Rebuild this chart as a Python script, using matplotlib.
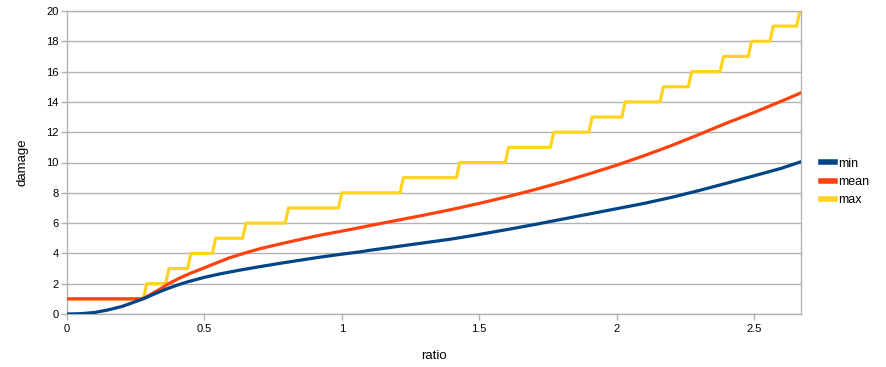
import numpy as np
import matplotlib
matplotlib.use("Agg")
import matplotlib.pyplot as plt

# значения
min_x = [0, 0.05, 0.1, 0.15, 0.2, 0.23, 0.284, 0.325, 0.366, 0.405, 0.444, 0.5, 0.56,
         0.63, 0.7, 0.77, 0.848, 0.92, 1.0, 1.066, 1.1, 1.2, 1.3, 1.4, 1.5, 1.6, 1.7,
         1.8, 1.9, 2.0, 2.1, 2.2, 2.3, 2.4, 2.5, 2.6, 2.671]
min_y = [0, 0.02, 0.1, 0.27, 0.5, 0.69, 1.05, 1.38, 1.68, 1.93, 2.15, 2.42, 2.66,
         2.9, 3.12, 3.33, 3.55, 3.75, 3.95, 4.1, 4.2, 4.45, 4.7, 4.95, 5.25, 5.57, 5.9,
         6.25, 6.6, 6.95, 7.3, 7.7, 8.15, 8.63, 9.12, 9.62, 10.05]

mean_x = [0, 0.27, 0.284, 0.3, 0.32, 0.345, 0.366, 0.405, 0.444, 0.5, 0.538, 0.59,
          0.648, 0.7, 0.77, 0.848, 0.92, 1.0, 1.066, 1.1, 1.2, 1.3, 1.4, 1.5, 1.6, 1.7,
          1.8, 1.9, 2.0, 2.1, 2.2, 2.3, 2.4, 2.5, 2.6, 2.671]
mean_y = [1, 1, 1.08, 1.25, 1.45, 1.72, 1.96, 2.33, 2.65, 3.05, 3.33, 3.7,
          4.03, 4.3, 4.6, 4.92, 5.2, 5.47, 5.7, 5.83, 6.18, 6.53, 6.9, 7.3, 7.73, 8.2,
          8.7, 9.25, 9.82, 10.45, 11.12, 11.85, 12.6, 13.3, 14.05, 14.6]

# max: ступеньки, x в которых значение растёт на 1
max_start = 1
max_jumps = [0.284, 0.365, 0.445, 0.535, 0.645, 0.80, 0.994, 1.218, 1.423, 1.601,
             1.765, 1.905, 2.025, 2.164, 2.267, 2.383, 2.485, 2.564, 2.661]
x_end = 2.671

xticks = [0, 0.5, 1, 1.5, 2, 2.5]
xtick_labels = ["0", "0.5", "1", "1.5", "2", "2.5"]
yticks = list(range(0, 21, 2))

# строим линию ступенек с небольшим наклоном как в оригинале
dx = 0.006
max_x = [0]
max_y = [max_start]
level = max_start
for j in max_jumps:
    max_x += [j - dx, j + dx]
    max_y += [level, level + 1]
    level += 1
max_x.append(x_end)
max_y.append(level)

plt.rcParams['font.family'] = ['Liberation Sans', 'DejaVu Sans']

fig = plt.figure(figsize=(8.86, 3.67), dpi=100)
ax = fig.add_axes([67 / 886, 1 - 314 / 367, (801 - 67) / 886, (314 - 11) / 367])

grid_c = "#b3b3b3"
ax.plot(min_x, min_y, color="#004586", lw=2.3, label="min", zorder=4)
ax.plot(mean_x, mean_y, color="#ff420e", lw=2.3, label="mean", zorder=3)
ax.plot(max_x, max_y, color="#ffd320", lw=2.3, label="max", zorder=2)

ax.set_xlim(0, x_end)
ax.set_ylim(0, 20)
ax.set_xticks(xticks)
ax.set_xticklabels(xtick_labels)
ax.set_yticks(yticks)
ax.yaxis.grid(True, color=grid_c, lw=1)
ax.set_axisbelow(True)
for s in ax.spines.values():
    s.set_color(grid_c)
    s.set_linewidth(1)
ax.tick_params(axis="both", colors=grid_c, labelcolor="black", labelsize=8,
               length=4, width=1, direction="out")
ax.tick_params(axis="x", pad=3)
ax.tick_params(axis="y", pad=2)

ax.set_xlabel("ratio", fontsize=9.5, labelpad=12)
ax.set_ylabel("damage", fontsize=9.5, labelpad=13)

leg = ax.legend(loc="center left", bbox_to_anchor=(1.0, 0.436), frameon=False,
                fontsize=9, handlelength=1.15, handletextpad=0.25, labelspacing=0.5,
                borderaxespad=1.2)
for l in leg.get_lines():
    l.set_linewidth(4)

fig.savefig("out.png", dpi=100)
